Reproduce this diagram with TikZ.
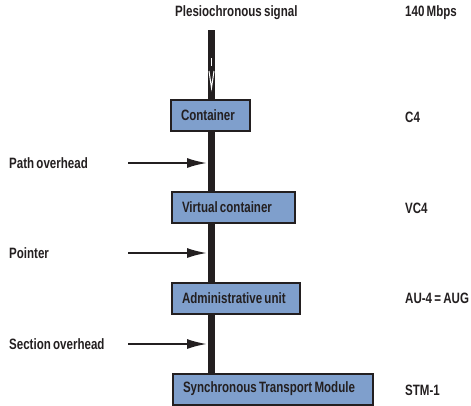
\documentclass[tikz,border=0pt]{standalone}
\usepackage{fontspec}
\setmainfont{Liberation Sans}[FakeStretch=0.77, WordSpace=0.7]
\usetikzlibrary{arrows.meta}
\definecolor{boxblue}{HTML}{7F9FCC}
\definecolor{ink}{HTML}{231F20}
\begin{document}
\begin{tikzpicture}[x=1pt,y=-1pt,
  every node/.style={font=\bfseries\fontsize{15}{17}\selectfont, text=ink, inner sep=0pt},
  lbl/.style={anchor=west},
  stage/.style={draw=ink, line width=2pt, fill=boxblue, anchor=center, inner xsep=10pt, align=flush left, minimum height=31pt},
  bar/.style={draw=ink, line width=6.5pt},
  feed/.style={draw=ink, line width=2pt, -{Latex[length=20pt,width=10pt]}}]
\useasboundingbox (0,0) rectangle (471,405);
% top signal label
\node[lbl] (sig) at (175,13) {Plesiochronous signal};
\node[lbl] (rate) at (405,13) {140 Mbps};
% stage boxes
\node[stage, text width=59pt] (c) at (210.5,115.5) {Container};
\node[stage, text width=103pt] (vc) at (233.5,207) {Virtual container};
\node[stage, text width=108pt] (au) at (236,298) {Administrative unit};
\node[stage, text width=180pt] (stm) at (273,389) {Synchronous Transport Module};
% right labels
\node[lbl] (lc) at (405,117) {C4};
\node[lbl] (lvc) at (405,208) {VC4};
\node[lbl] (lau) at (405,298) {AU-4 = AUG};
\node[lbl] (lstm) at (405,390) {STM-1};
% left labels
\node[lbl] (po) at (9,163) {Path overhead};
\node[lbl] (pt) at (9,253) {Pointer};
\node[lbl] (so) at (9,344) {Section overhead};
% main vertical line
\coordinate (top) at (211.5,30);
\draw[bar] (top) -- (c.north -| top);
\draw[bar] (c.south -| top) -- (vc.north -| top);
\draw[bar] (vc.south -| top) -- (au.north -| top);
\draw[bar] (au.south -| top) -- (stm.north -| top);
% white arrow inside the incoming signal
\draw[white, line width=1.2pt] (211.5,58) -- (211.5,66);
\draw[white, line width=1pt, line join=miter] (209,71) -- (211.5,88) -- (214,71);
% feed arrows
\coordinate (a1) at (128,163);
\coordinate (a2) at (128,253);
\coordinate (a3) at (128,344);
\coordinate (b1) at (207,163);
\coordinate (b2) at (207,253);
\coordinate (b3) at (207,344);
\draw[feed] (a1) -- (b1);
\draw[feed] (a2) -- (b2);
\draw[feed] (a3) -- (b3);
\end{tikzpicture}
\end{document}
